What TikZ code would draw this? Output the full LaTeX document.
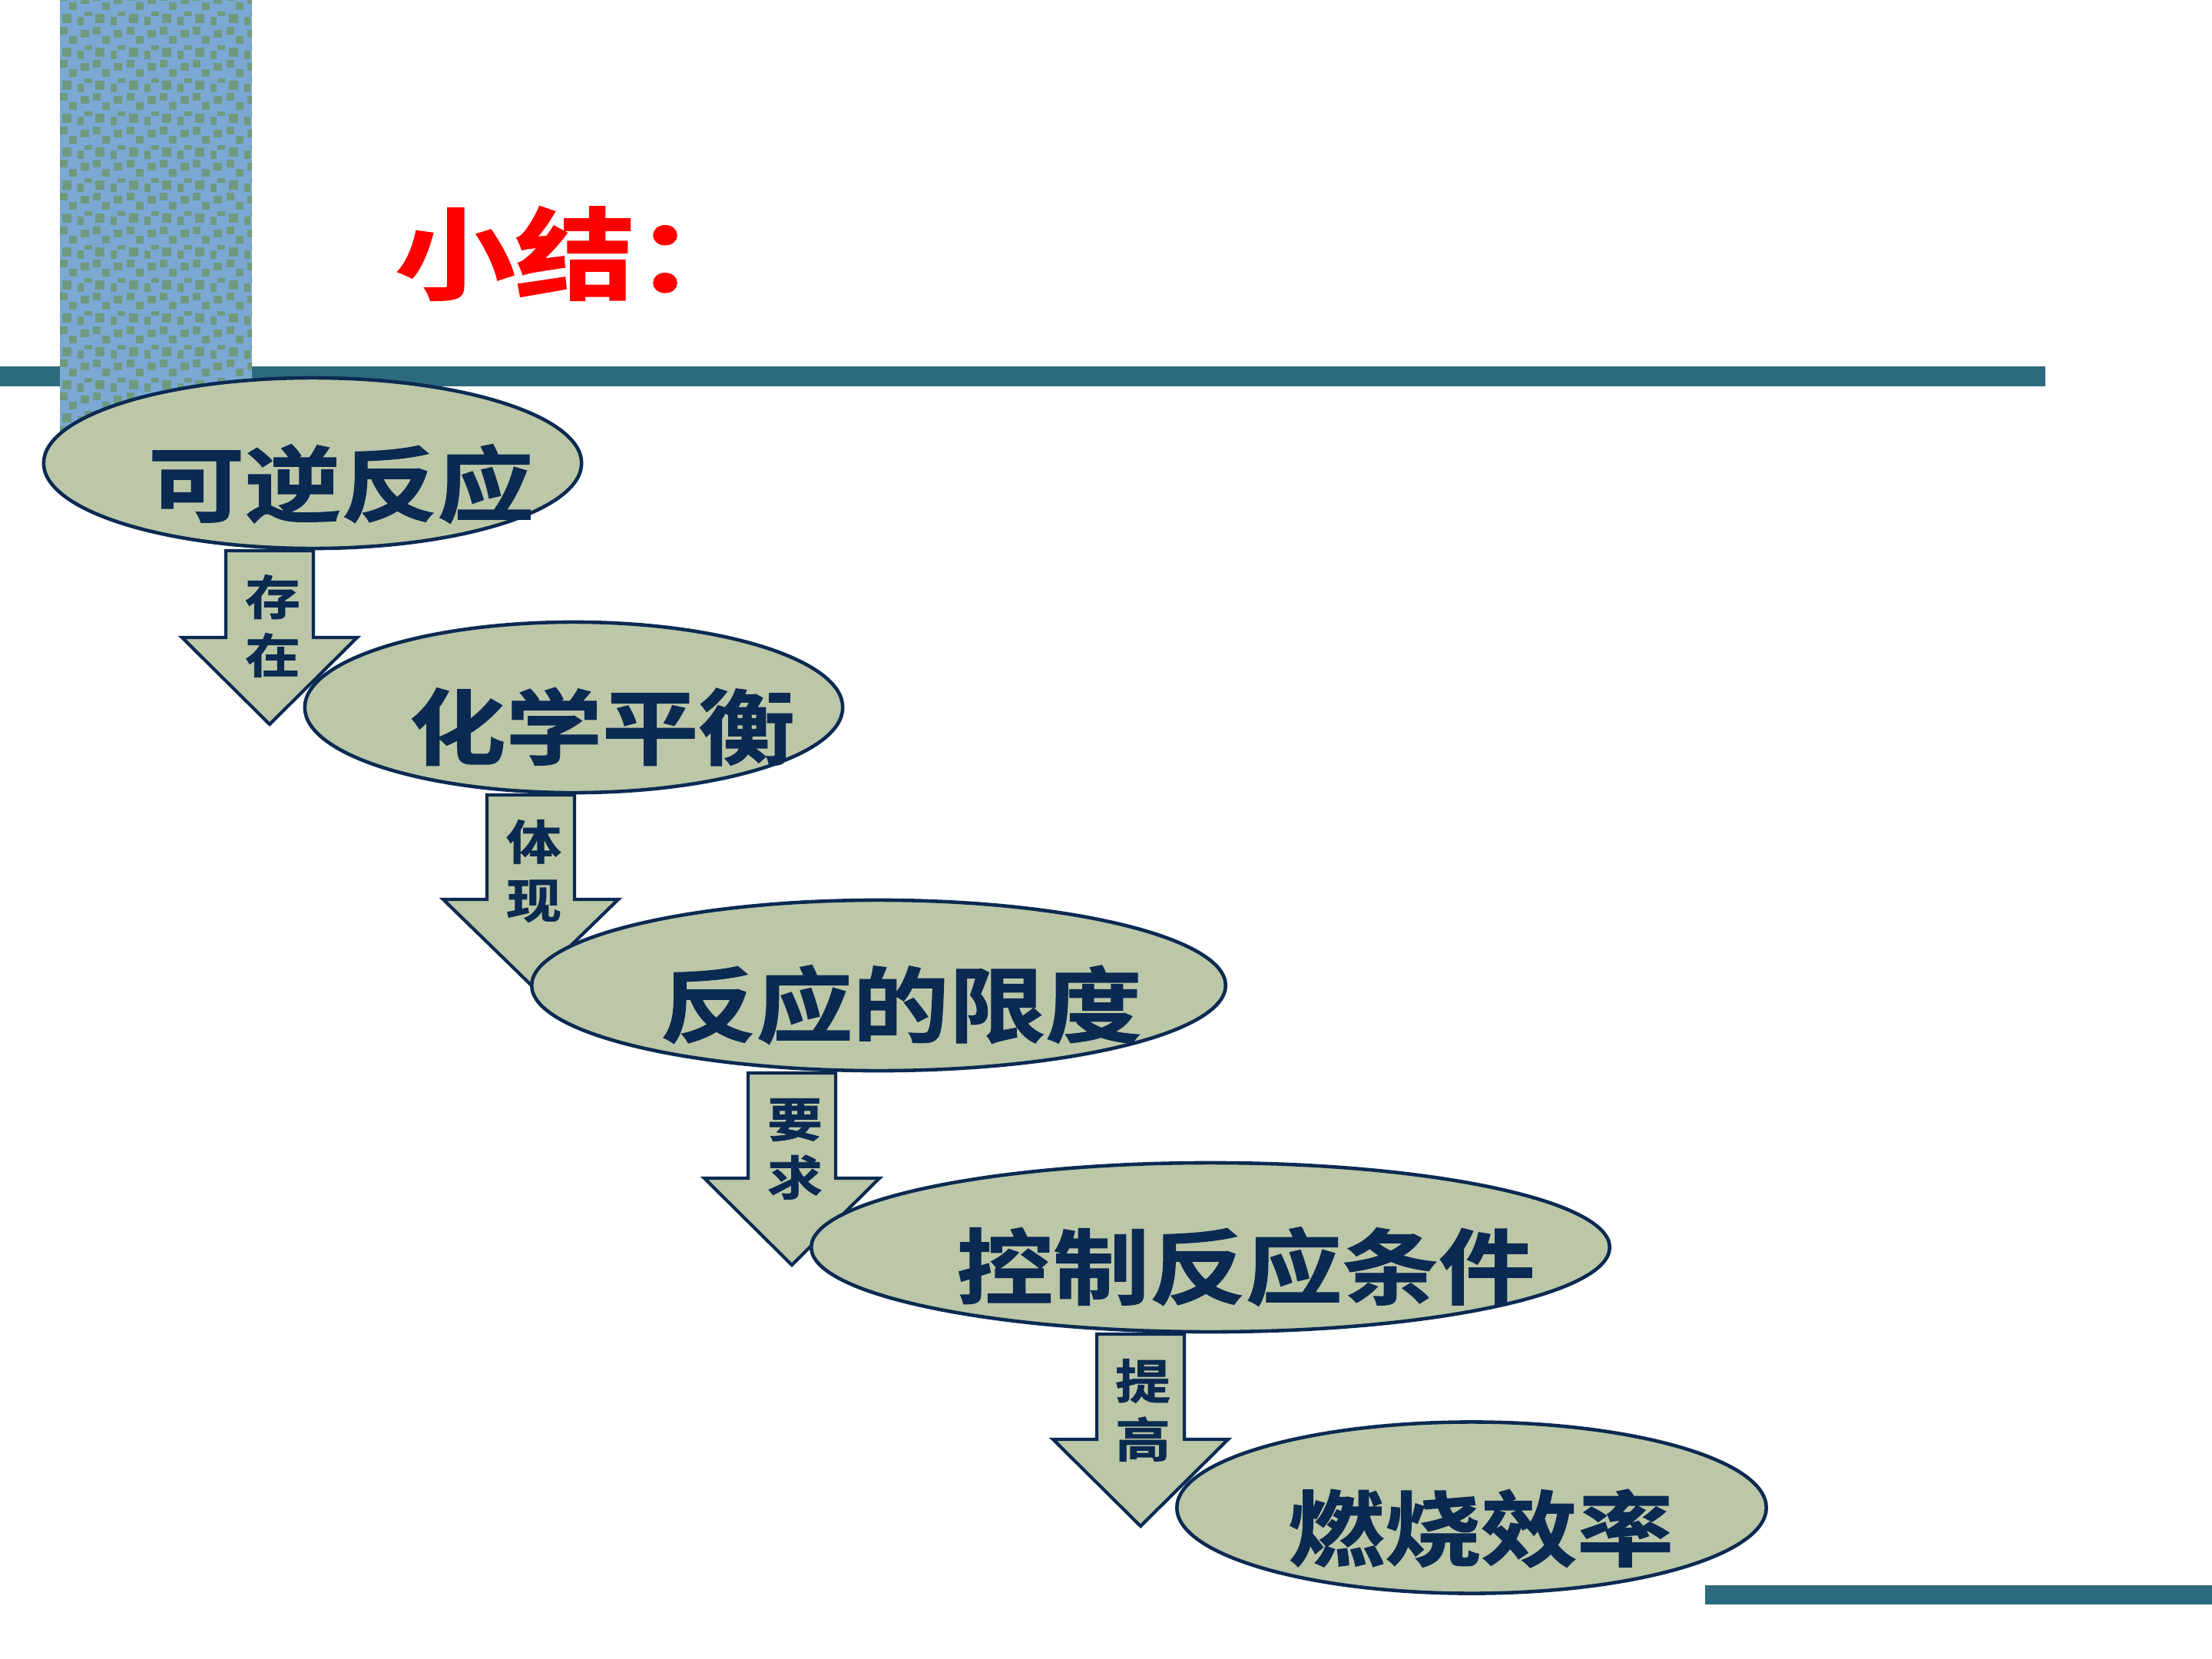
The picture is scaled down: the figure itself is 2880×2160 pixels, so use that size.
\documentclass[tikz,border=0pt]{standalone}
\usepackage{fontspec}
\usetikzlibrary{shapes.geometric}
\newfontfamily\cjk{Noto Sans CJK SC}[UprightFont=* Bold, FakeStretch=1.17, FakeBold=1.2]
\newfontfamily\cjktitle{Noto Sans CJK SC}[UprightFont=* Bold, FakeStretch=1.2, FakeBold=1.5]
\definecolor{barline}{HTML}{2E6A7E}
\definecolor{patblue}{HTML}{7BA9D4}
\definecolor{patgreen}{HTML}{6F997F}
\definecolor{ellfill}{HTML}{BCC7A7}
\definecolor{navy}{HTML}{0B2A52}
\definecolor{titlered}{HTML}{FF0000}
\tikzset{
  ell/.style={ellipse, draw=navy, fill=ellfill, line width=1.3pt, inner sep=0pt},
  elltext/.style={inner sep=0pt, text=navy, font=\cjk\fontsize{30.5pt}{30.5pt}\selectfont},
  arrowshape/.style={draw=navy, fill=ellfill, line width=1.2pt, line join=miter},
  arrowtext/.style={inner sep=0pt, text=navy, align=center, font=\cjk\fontsize{17.5pt}{21.6pt}\selectfont},
}
\newcommand\flowarrow[4]{% cx, top, head, tip
  \draw[arrowshape] ({#1-57},#2) -- ({#1+57},#2) -- ({#1+57},#3) -- ({#1+114},#3)
    -- (#1,#4) -- ({#1-114},#3) -- ({#1-57},#3) -- cycle;}
\begin{document}
\begin{tikzpicture}[x=0.01cm,y=-0.01cm]
\useasboundingbox (0,0) rectangle (2880,2160);
% top rule
\fill[barline] (0,477) rectangle (2663,503);
% patterned bar
\begin{scope}
  \clip (78,0) rectangle (328,600);
  \fill[patblue] (78,0) rectangle (328,600);
  \foreach \i in {-1,...,6}{
    \foreach \j in {-1,...,14}{
      \begin{scope}[shift={({78+43.33*\i},{-6.67+43.33*\j})}]
        \fill[patgreen] (0,-2) rectangle (10,8);
        \fill[patgreen] (27,2) rectangle (38,12);
        \fill[patgreen] (12,10) rectangle (22,20);
        \fill[patgreen] (32,22) rectangle (42,28);
        \fill[patgreen] (3,25) rectangle (15,37);
        \fill[patgreen] (23,29) rectangle (31,40);
      \end{scope}
    }
  }
\end{scope}
% title
\node[anchor=west, inner sep=0pt, text=titlered, font=\cjktitle\fontsize{37pt}{37pt}\selectfont] (title) at (514,330) {小结：};
% chain
\node[ell, minimum width=7.0cm, minimum height=2.22cm] (e1) at (407,603) {};
\node[elltext] (t1) at (444,630) {可逆反应};
\flowarrow{351}{717}{830}{943}
\node[arrowtext] (a1) at (355,815) {存\\在};
\node[ell, minimum width=7.0cm, minimum height=2.22cm] (e2) at (747,921) {};
\node[elltext] (t2) at (784,946) {化学平衡};
\flowarrow{691}{1035}{1171}{1282}
\node[arrowtext] (a2) at (695,1134) {体\\现};
\node[ell, minimum width=9.03cm, minimum height=2.22cm] (e3) at (1144,1283) {};
\node[elltext] (t3) at (1173,1308) {反应的限度};
\flowarrow{1031}{1397}{1534}{1647}
\node[arrowtext] (a3) at (1035,1496) {要\\求};
\node[ell, minimum width=10.39cm, minimum height=2.2cm] (e4) at (1576,1624) {};
\node[elltext] (t4) at (1622,1649) {控制反应条件};
\flowarrow{1485}{1737}{1874}{1987}
\node[arrowtext] (a4) at (1488,1836) {提\\高};
\node[ell, minimum width=7.67cm, minimum height=2.23cm] (e5) at (1916,1963) {};
\node[elltext] (t5) at (1928,1990) {燃烧效率};
% bottom rule
\fill[barline] (2220,2064) rectangle (2880,2089);
\end{tikzpicture}
\end{document}
